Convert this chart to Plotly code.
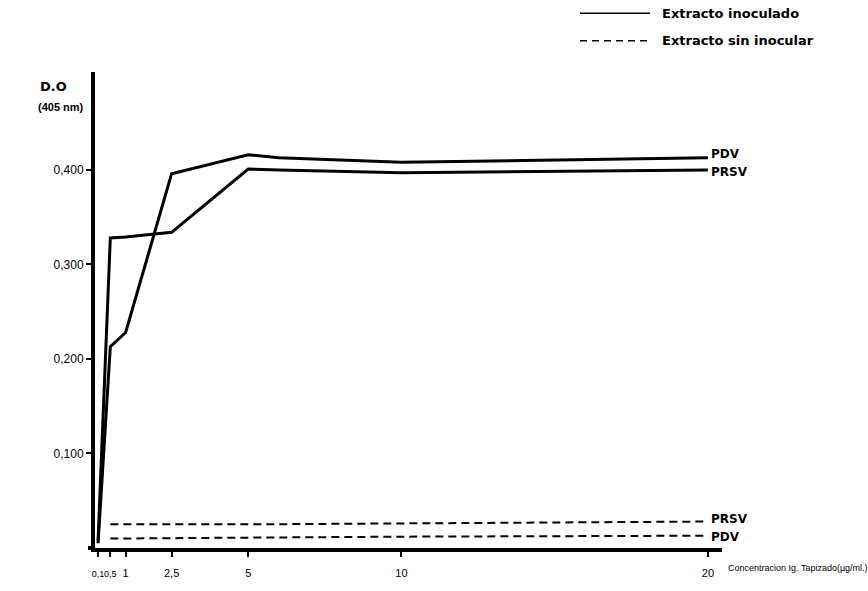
import plotly.graph_objects as go

# Data
conc = [0.1, 0.5, 1, 2.5, 5, 6, 10, 20]
pdv_inoc = [0.005, 0.213, 0.228, 0.396, 0.416, 0.413, 0.408, 0.413]
prsv_inoc_x = [0.1, 0.5, 1, 2.5, 5, 6, 10, 20]
prsv_inoc = [0.008, 0.328, 0.329, 0.334, 0.401, 0.400, 0.397, 0.400]
sin_x = [0.5, 5, 10, 20]
prsv_sin = [0.025, 0.025, 0.026, 0.028]
pdv_sin = [0.010, 0.011, 0.012, 0.013]

xtick_vals = [0.1, 0.5, 1, 2.5, 5, 10, 20]
xtick_text = ["<span style='font-size:9px'>0,1</span>",
              "<span style='font-size:9px'>0,5</span>",
              "1", "2,5", "5", "10", "20"]
ytick_vals = [0.1, 0.2, 0.3, 0.4]
ytick_text = ["0,100", "0,200", "0,300", "0,400"]

FONT = "DejaVu Sans"
FONT2 = "Liberation Sans"
W, H = 868, 591
L, R, T, B = 95, 146, 72, 33
pw, ph = W - L - R, H - T - B

def px(xp):
    return (xp - L) / pw

def py(yp):
    return (H - B - yp) / ph

fig = go.Figure()
fig.add_trace(go.Scatter(x=conc, y=pdv_inoc, mode="lines",
                         line=dict(color="black", width=3), showlegend=False))
fig.add_trace(go.Scatter(x=prsv_inoc_x, y=prsv_inoc, mode="lines",
                         line=dict(color="black", width=3), showlegend=False))
fig.add_trace(go.Scatter(x=sin_x, y=prsv_sin, mode="lines",
                         line=dict(color="black", width=2, dash="8px,5px"), showlegend=False))
fig.add_trace(go.Scatter(x=sin_x, y=pdv_sin, mode="lines",
                         line=dict(color="black", width=2, dash="8px,5px"), showlegend=False))

lf = dict(family=FONT, size=12, color="black")

# end labels
end_labels = [("PDV", pdv_inoc[-1], 4), ("PRSV", prsv_inoc[-1], -2),
              ("PRSV", prsv_sin[-1], 3), ("PDV", pdv_sin[-1], -1)]
for txt, yv, ys in end_labels:
    fig.add_annotation(x=20, y=yv, text="<b>" + txt + "</b>", showarrow=False,
                       xanchor="left", yanchor="middle", xshift=1, yshift=ys,
                       font=lf)

# axis title annotations
fig.add_annotation(x=px(38), y=py(87), xref="paper", yref="paper",
                   xanchor="left", yanchor="middle",
                   text="<b>D.O</b>", showarrow=False,
                   font=dict(family=FONT, size=13, color="black"))
fig.add_annotation(x=px(36), y=py(108), xref="paper", yref="paper",
                   xanchor="left", yanchor="middle",
                   text="<b>(405 nm)</b>", showarrow=False,
                   font=dict(family=FONT2, size=11, color="black"))
fig.add_annotation(x=px(726), y=py(578), xref="paper", yref="paper",
                   xanchor="left", yanchor="middle",
                   text="Concentracion Ig. Tapizado(µg/ml.)",
                   showarrow=False,
                   font=dict(family=FONT2, size=9, color="black"))

# short extension of the x axis line to the left of the y axis
fig.add_shape(type="line", xref="paper", yref="paper", x0=px(88), x1=0, y0=0, y1=0,
              line=dict(color="black", width=4))

# legend drawn manually
fig.add_shape(type="line", xref="paper", yref="paper", x0=px(580), x1=px(650), y0=py(12), y1=py(12),
              line=dict(color="black", width=1.5))
fig.add_shape(type="line", xref="paper", yref="paper", x0=px(580), x1=px(650), y0=py(40), y1=py(40),
              line=dict(color="black", width=1.5, dash="7px,5px"))
fig.add_annotation(x=px(660), y=py(12), xref="paper", yref="paper",
                   xanchor="left", yanchor="middle",
                   text="<b>Extracto inoculado</b>", showarrow=False,
                   font=dict(family=FONT, size=13, color="black"))
fig.add_annotation(x=px(660), y=py(40), xref="paper", yref="paper",
                   xanchor="left", yanchor="middle",
                   text="<b>Extracto sin inocular</b>", showarrow=False,
                   font=dict(family=FONT, size=13, color="black"))

fig.update_layout(
    width=W, height=H,
    margin=dict(l=L, r=R, t=T, b=B),
    paper_bgcolor="white", plot_bgcolor="white",
    font=lf,
    xaxis=dict(range=[0, 20.46], tickvals=xtick_vals, ticktext=xtick_text,
               tickangle=0, ticklabelstandoff=7,
               showgrid=False, zeroline=False, showline=True, linecolor="black",
               linewidth=4, ticks="outside", ticklen=5, tickwidth=2, tickcolor="black",
               tickfont=dict(family=FONT2, size=11, color="black")),
    yaxis=dict(range=[0, 0.5036], tickvals=ytick_vals, ticktext=ytick_text,
               showgrid=False, zeroline=False, showline=True, linecolor="black",
               linewidth=4, ticks="outside", ticklen=5, tickwidth=2, tickcolor="black",
               tickfont=dict(family=FONT2, size=12, color="black")),
)

fig.write_html("out.html")
